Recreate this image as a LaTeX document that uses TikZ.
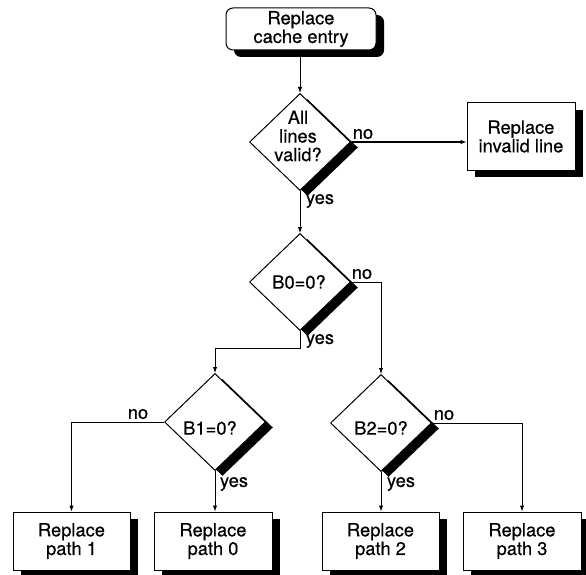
\documentclass[tikz,border=0pt]{standalone}
\usepackage{fontspec}
\setmainfont{TeX Gyre Heros}[FakeBold=0.4]
\usetikzlibrary{shapes.geometric,shadows,arrows.meta}
\begin{document}
\begin{tikzpicture}[x=1pt,y=-1pt,
  every node/.style={font=\fontsize{18.3}{18.6}\selectfont},
  shad/.style={drop shadow={shadow xshift=8pt,shadow yshift=-7pt,fill=black,opacity=1}},
  dshad/.style={drop shadow={shadow xshift=7.5pt,shadow yshift=-5.5pt,fill=black,opacity=1}},
  procbox/.style={draw,line width=1pt,fill=white,inner sep=0pt,align=center,shad},
  termbox/.style={procbox,rounded corners=7pt},
  dia/.style={draw,line width=1pt,fill=white,shape=diamond,inner sep=0pt,
              minimum width=101pt,minimum height=97pt,dshad},
  txt/.style={align=center,inner sep=0pt},
  lab/.style={inner sep=0pt},
  arr/.style={line width=1pt,-{Latex[length=6pt,width=4.5pt]}}
]
\useasboundingbox (0,0) rectangle (586,575);

% nodes
\node[termbox,minimum width=150pt,minimum height=42pt] (start) at (301,29) {Replace\\cache entry};
\node[dia] (d1) at (300,142) {};
\node[txt] (t1) at (298,136) {All\\lines\\valid?};
\node[procbox,minimum width=108pt,minimum height=67pt] (inv) at (521,136.5) {Replace\\invalid line};
\node[dia] (d0) at (300,282) {};
\node[txt] (t0) at (299,282) {B0=0?};
\node[dia] (b1) at (215,422) {};
\node[txt] (tb1) at (210,428) {B1=0?};
\node[dia] (b2) at (381,423) {};
\node[txt] (tb2) at (381,428) {B2=0?};
\node[procbox,minimum width=117pt,minimum height=58pt] (p1) at (71.5,541) {Replace\\path 1};
\node[procbox,minimum width=118pt,minimum height=58pt] (p0) at (213,541) {Replace\\path 0};
\node[procbox,minimum width=117pt,minimum height=58pt] (p2) at (380.5,541) {Replace\\path 2};
\node[procbox,minimum width=118pt,minimum height=58pt] (p3) at (522,541) {Replace\\path 3};

\coordinate (j0) at (300,348);

% connectors
\draw[arr] (d1.north |- start.south) -- (d1.north);
\draw[arr] (d1.east) -- (d1.east -| inv.west);
\draw[arr] (d1.south) -- (d0.north);
\draw[arr] (d0.east) -| (b2.north);
\draw[arr] (d0.south) -- (j0) -| (b1.north);
\draw[arr] (b1.west) -| (p1.north);
\draw[arr] (b1.south) -- (b1.south |- p0.north);
\draw[arr] (b2.east) -| (p3.north);
\draw[arr] (b2.south) -- (b2.south |- p2.north);

% labels
\node[lab] (l1) at (363,134) {no};
\node[lab] (l2) at (320,201) {yes};
\node[lab] (l3) at (362,274) {no};
\node[lab] (l4) at (320,341) {yes};
\node[lab] (l5) at (138,414) {no};
\node[lab] (l6) at (234,484) {yes};
\node[lab] (l7) at (444,415) {no};
\node[lab] (l8) at (401,484) {yes};
\end{tikzpicture}
\end{document}
